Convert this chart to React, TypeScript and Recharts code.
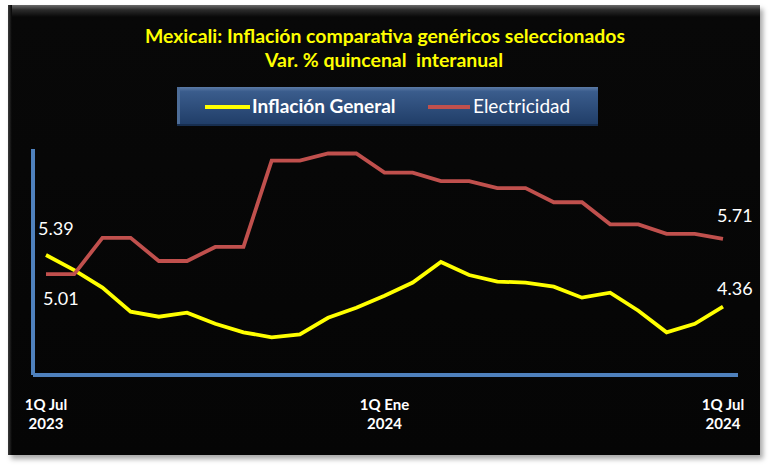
import React from 'react';
import { LineChart, Line, XAxis, YAxis, Legend, LabelList } from 'recharts';

const categories = [
  '1Q Jul 2023', '2Q Jul 2023', '1Q Ago 2023', '2Q Ago 2023', '1Q Sep 2023', '2Q Sep 2023',
  '1Q Oct 2023', '2Q Oct 2023', '1Q Nov 2023', '2Q Nov 2023', '1Q Dic 2023', '2Q Dic 2023',
  '1Q Ene 2024', '2Q Ene 2024', '1Q Feb 2024', '2Q Feb 2024', '1Q Mar 2024', '2Q Mar 2024',
  '1Q Abr 2024', '2Q Abr 2024', '1Q May 2024', '2Q May 2024', '1Q Jun 2024', '2Q Jun 2024',
  '1Q Jul 2024',
];
const inflacionGeneral = [
  5.39, 5.09, 4.74, 4.26, 4.16, 4.24, 4.02, 3.85, 3.75, 3.81, 4.14, 4.34,
  4.58, 4.84, 5.25, 4.99, 4.86, 4.84, 4.76, 4.54, 4.64, 4.28, 3.85, 4.02, 4.36,
];
const electricidad = [
  5.01, 5.01, 5.73, 5.73, 5.27, 5.27, 5.55, 5.55, 7.27, 7.27, 7.41, 7.41,
  7.03, 7.03, 6.86, 6.86, 6.72, 6.72, 6.44, 6.44, 6.0, 6.0, 5.81, 5.81, 5.71,
];
const tickLabels = ['1Q Jul 2023', '1Q Ene 2024', '1Q Jul 2024'];
const titleLines = ['Mexicali: Inflación comparativa genéricos seleccionados', 'Var. % quincenal  interanual'];

const data = categories.map((c, i) => ({ cat: c, gen: inflacionGeneral[i], ele: electricidad[i] }));
const LAST = categories.length - 1;

const FONT = 'Lato, "Open Sans", sans-serif';

const XTick = (props: any) => {
  const { x, y, payload } = props;
  const s: string = payload.value;
  const k = s.lastIndexOf(' ');
  return (
    <g>
      <text x={x} y={y + 35} textAnchor="middle" fill="#ffffff" fontFamily={FONT} fontWeight="bold" fontSize={15}>
        {s.slice(0, k)}
      </text>
      <text x={x} y={y + 54} textAnchor="middle" fill="#ffffff" fontFamily={FONT} fontWeight="bold" fontSize={15}>
        {s.slice(k + 1)}
      </text>
    </g>
  );
};

const makeLabel = (first: [number, number], last: [number, number]) => (props: any) => {
  const { x, y, value, index } = props;
  if (index !== 0 && index !== LAST) return null;
  const off = index === 0 ? first : last;
  return (
    <text x={x + off[0]} y={y + off[1]} fill="#ffffff" fontFamily={FONT} fontSize={18}>
      {Number(value).toFixed(2)}
    </text>
  );
};

const legendPos: Record<string, { line: number; text: number; bold: boolean; len: number }> = {
  gen: { line: 28, text: 75, bold: true, len: 45 },
  ele: { line: 251, text: 296, bold: false, len: 42 },
};

const LegendBox = (props: any) => {
  const payload = props.payload || [];
  return (
    <svg width={421} height={39} style={{ display: 'block' }}>
      <defs>
        <linearGradient id="lgbg" x1="0" y1="0" x2="0" y2="1">
          <stop offset="0%" stopColor="#5b7aa6" />
          <stop offset="12%" stopColor="#3a5c8c" />
          <stop offset="100%" stopColor="#1f3c66" />
        </linearGradient>
      </defs>
      <rect x={0} y={0} width={421} height={39} fill="url(#lgbg)" />
      <rect x={0} y={0} width={3} height={39} fill="#4d6d98" />
      <rect x={0} y={37} width={421} height={2} fill="#172e4f" />
      {payload.map((p: any, i: number) => {
        const ps = legendPos[p.dataKey] || legendPos.gen;
        return (
          <g key={i}>
            <line x1={ps.line} x2={ps.line + ps.len} y1={20} y2={20} stroke={p.color} strokeWidth={4} />
            <text x={ps.text} y={26} fill="#ffffff" fontFamily={FONT} fontSize={19} fontWeight={ps.bold ? 'bold' : 'normal'}>
              {p.value}
            </text>
          </g>
        );
      })}
    </svg>
  );
};

export default function App() {
  return (
    <div style={{ position: 'absolute', left: 0, top: 0, width: 770, height: 470, background: '#ffffff', overflow: 'hidden' }}>
      <div
        style={{
          position: 'absolute', left: 8, top: 5, width: 752, height: 450,
          background: 'linear-gradient(to bottom, #6a6a6a 0px, #2a2a2a 5px, #080808 12px, #050505 100%)',
          boxShadow: '3px 4px 5px rgba(0,0,0,0.35)',
        }}
      >
        <div style={{ position: 'absolute', left: 0, top: 0, width: 4, height: 450, background: 'linear-gradient(to right, #3a3a3a, #050505)' }} />
      </div>
      <div style={{ position: 'absolute', left: 0, top: 0 }}>
        <LineChart width={770} height={470} data={data} margin={{ top: 149, right: 32, bottom: 35, left: 32 }}>
          <XAxis
            dataKey="cat"
            ticks={tickLabels}
            interval={0}
            tickLine={false}
            tickSize={0}
            tickMargin={0}
            height={60}
            padding={{ left: 13, right: 15 }}
            axisLine={{ stroke: '#4f81bd', strokeWidth: 4 }}
            tick={<XTick />}
          />
          <YAxis
            domain={[3, 7.5]}
            width={1}
            tick={false}
            tickLine={false}
            axisLine={{ stroke: '#4f81bd', strokeWidth: 4 }}
          />
          <Legend layout="horizontal" verticalAlign="middle" align="center" wrapperStyle={{ left: 177, top: 87, width: 421, height: 39 }} content={<LegendBox />} />
          <Line type="linear" dataKey="gen" name="Inflación General" stroke="#ffff00" strokeWidth={3.8} dot={false} isAnimationActive={false}>
            <LabelList dataKey="gen" content={makeLabel([-8, -20], [-6, -12])} />
          </Line>
          <Line type="linear" dataKey="ele" name="Electricidad" stroke="#c0504d" strokeWidth={3.8} dot={false} isAnimationActive={false}>
            <LabelList dataKey="ele" content={makeLabel([-3, 31], [-6, -17])} />
          </Line>
        </LineChart>
      </div>
      <svg width={770} height={470} style={{ position: 'absolute', left: 0, top: 0, pointerEvents: 'none' }}>
        <text x={385} y={43} textAnchor="middle" fill="#ffff00" fontFamily={FONT} fontWeight="bold" fontSize={19} textLength={480} lengthAdjust="spacingAndGlyphs">
          {titleLines[0]}
        </text>
        <text x={384} y={67} textAnchor="middle" fill="#ffff00" fontFamily={FONT} fontWeight="bold" fontSize={19} textLength={238} lengthAdjust="spacingAndGlyphs" style={{ whiteSpace: 'pre' }}>
          {titleLines[1]}
        </text>
      </svg>
    </div>
  );
}
